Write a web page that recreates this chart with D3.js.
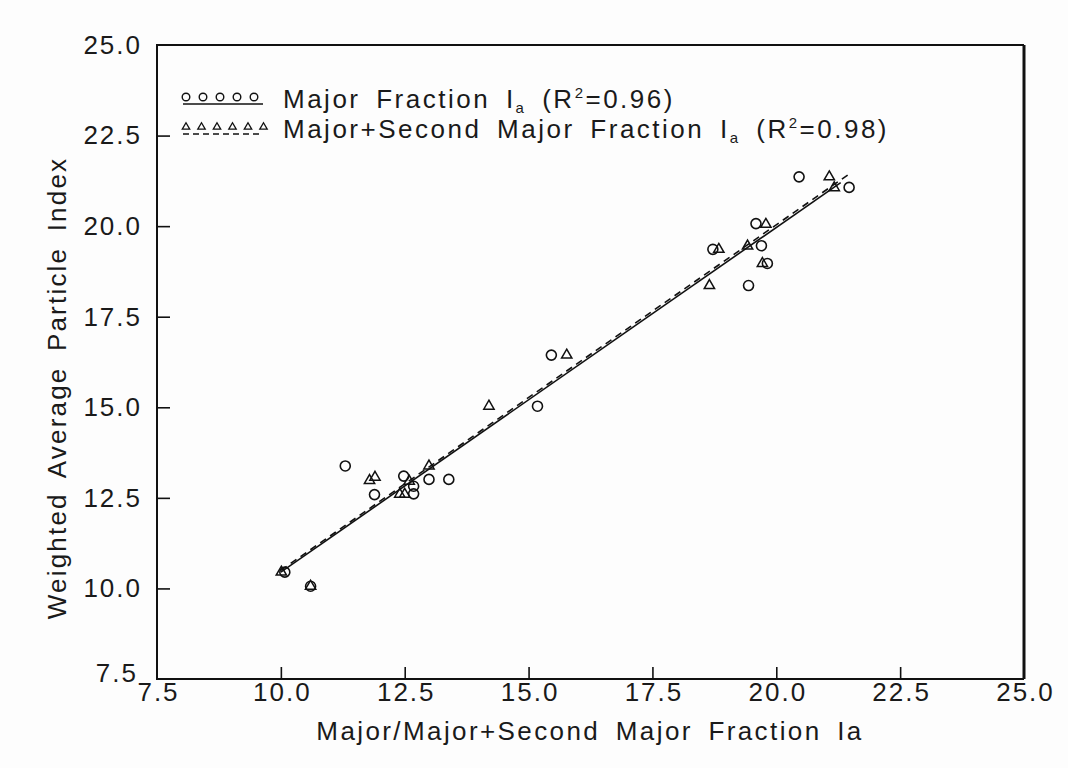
<!DOCTYPE html>
<html>
<head>
<meta charset="utf-8">
<script src="https://cdn.jsdelivr.net/npm/d3@7"></script>
<style>
  html, body { margin: 0; padding: 0; background: #fdfdfd; }
  svg text { font-family: "Liberation Sans", Arial, sans-serif; fill: #1a1a1a; }
</style>
</head>
<body>
<svg id="chart" width="1068" height="768"></svg>
<script>
// ---- data ----
const xTickValues = [7.5, 10, 12.5, 15, 17.5, 20, 22.5, 25];
const yTickValues = [7.5, 10, 12.5, 15, 17.5, 20, 22.5, 25];

// Major Fraction Ia (circles)
const majorX = [11.30, 12.48, 11.89, 12.68, 12.68, 12.99, 13.39, 10.08, 10.60, 15.46, 15.18, 20.46, 21.47, 19.59, 19.70, 18.72, 19.82, 19.44];
const majorY = [13.38, 13.10, 12.59, 12.82, 12.61, 13.01, 13.01, 10.45, 10.06, 16.44, 15.03, 21.36, 21.07, 20.07, 19.46, 19.36, 18.97, 18.36];

// Major+Second Major Fraction Ia (triangles)
const secondX = [11.79, 11.90, 12.40, 12.50, 12.59, 12.99, 10.01, 10.60, 14.20, 15.77, 21.07, 21.17, 19.79, 19.42, 18.84, 19.72, 18.65];
const secondY = [12.98, 13.07, 12.60, 12.60, 12.96, 13.38, 10.45, 10.06, 15.03, 16.44, 21.36, 21.06, 20.05, 19.45, 19.36, 18.97, 18.36];

// fitted lines (end points)
const fitMajorX = [10.0, 21.3];
const fitMajorY = [10.45, 21.2];
const fitSecondX = [10.0, 21.45];
const fitSecondY = [10.5, 21.42];

const legendLabels = ["Major Fraction I", "Major+Second Major Fraction I"];
const legendR2 = ["0.96", "0.98"];

// ---- drawing ----
const svg = d3.select("#chart");
const FS = 26, LS = 2, WS = 6;
const FONT = '"Liberation Sans", Arial, sans-serif';

const x = d3.scaleLinear().domain([7.5, 25]).range([157, 1024]);
const y = d3.scaleLinear().domain([7.5, 25]).range([679, 45]);

// frame
const frame = svg.append("g").attr("fill", "none").attr("stroke", "#111");
frame.append("path")
  .attr("d", `M${x(25)},${y(25)}H${x(7.5)}V${y(7.5)}H${x(25)}`)
  .attr("stroke-width", 2);
frame.append("path")
  .attr("d", `M${x(25)},${y(25)}V${y(7.5)}`)
  .attr("stroke-width", 3);

// x axis
const xAxis = d3.axisBottom(x).tickValues(xTickValues).tickFormat(d3.format(".1f"))
  .tickSize(-12).tickPadding(4);
const gx = svg.append("g").attr("transform", `translate(0,${y(7.5)})`).call(xAxis);
gx.select(".domain").remove();
gx.selectAll(".tick line").attr("stroke", "#111").attr("stroke-width", 1.6)
  .filter(d => d === 7.5 || d === 25).remove();
gx.selectAll(".tick text").attr("font-size", FS).attr("letter-spacing", LS)
  .attr("dx", LS / 2).attr("fill", "#1a1a1a").style("font-family", FONT);

// y axis
const yAxis = d3.axisLeft(y).tickValues(yTickValues).tickFormat(d3.format(".1f"))
  .tickSize(-13).tickPadding(17 - LS);
const gy = svg.append("g").attr("transform", `translate(${x(7.5)},0)`).call(yAxis);
gy.select(".domain").remove();
gy.selectAll(".tick line").attr("stroke", "#111").attr("stroke-width", 1.6)
  .filter(d => d === 7.5 || d === 25).remove();
gy.selectAll(".tick text").attr("font-size", FS).attr("letter-spacing", LS)
  .attr("fill", "#1a1a1a").style("font-family", FONT);
gy.selectAll(".tick").filter(d => d === 7.5).select("text").attr("dx", -4).attr("dy", "0.1em");

// axis titles
svg.append("text")
  .attr("transform", `translate(66,${(y(25) + y(7.5)) / 2 + 26}) rotate(-90)`)
  .attr("text-anchor", "middle").attr("font-size", FS).attr("letter-spacing", 2.2)
  .attr("word-spacing", WS)
  .text("Weighted Average Particle Index");
svg.append("text")
  .attr("x", 590).attr("y", 740)
  .attr("text-anchor", "middle").attr("font-size", FS).attr("letter-spacing", 2.4)
  .attr("word-spacing", WS)
  .text("Major/Major+Second Major Fraction Ia");

// fit lines
const line = d3.line().x(d => x(d[0])).y(d => y(d[1]));
svg.append("path").datum(d3.zip(fitMajorX, fitMajorY))
  .attr("d", line).attr("fill", "none").attr("stroke", "#111").attr("stroke-width", 1.6);
svg.append("path").datum(d3.zip(fitSecondX, fitSecondY))
  .attr("d", line).attr("fill", "none").attr("stroke", "#111").attr("stroke-width", 1.6)
  .attr("stroke-dasharray", "7,5");

// markers
svg.append("g").selectAll("circle").data(d3.zip(majorX, majorY)).join("circle")
  .attr("cx", d => x(d[0])).attr("cy", d => y(d[1])).attr("r", 5)
  .attr("fill", "none").attr("stroke", "#111").attr("stroke-width", 1.6);
const tri = d3.symbol().type(d3.symbolTriangle).size(46);
svg.append("g").selectAll("path").data(d3.zip(secondX, secondY)).join("path")
  .attr("d", tri).attr("transform", d => `translate(${x(d[0])},${y(d[1])})`)
  .attr("fill", "none").attr("stroke", "#111").attr("stroke-width", 1.5);

// legend
const lg = svg.append("g");
const symX = d3.range(5).map(i => 186 + i * 17);
lg.selectAll("circle").data(symX).join("circle")
  .attr("cx", d => d).attr("cy", 97).attr("r", 3.8)
  .attr("fill", "none").attr("stroke", "#111").attr("stroke-width", 1.4);
lg.append("line").attr("x1", 183).attr("x2", 263).attr("y1", 104).attr("y2", 104)
  .attr("stroke", "#111").attr("stroke-width", 1.5);
const triX = d3.range(6).map(i => 186 + i * 15.5);
const triSmall = d3.symbol().type(d3.symbolTriangle).size(24);
lg.selectAll("path.t").data(triX).join("path").attr("class", "t")
  .attr("d", triSmall).attr("transform", d => `translate(${d},127)`)
  .attr("fill", "none").attr("stroke", "#111").attr("stroke-width", 1.3);
lg.append("line").attr("x1", 183).attr("x2", 263).attr("y1", 134).attr("y2", 134)
  .attr("stroke", "#111").attr("stroke-width", 1.3).attr("stroke-dasharray", "6,4");

legendLabels.forEach((lab, i) => {
  const t = lg.append("text").attr("x", 283).attr("y", 108 + i * 30)
    .attr("font-size", FS).attr("letter-spacing", 2.5).attr("word-spacing", WS);
  t.append("tspan").text(lab);
  t.append("tspan").attr("font-size", 15).attr("dy", 5).text("a");
  t.append("tspan").attr("dy", -5).text(" (R");
  t.append("tspan").attr("font-size", 15).attr("dy", -10).text("2");
  t.append("tspan").attr("dy", 10).text("=" + legendR2[i] + ")");
});
</script>
</body>
</html>
